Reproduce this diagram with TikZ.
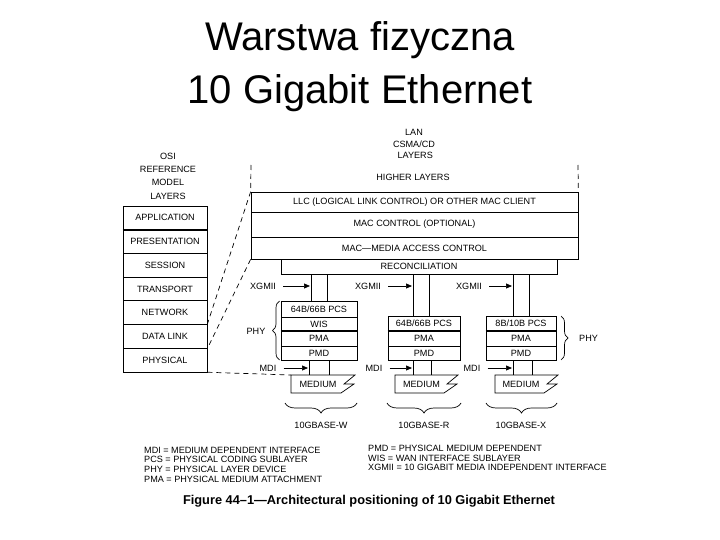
\documentclass[tikz,border=0pt]{standalone}
\usepackage{fontspec}
\setmainfont{Liberation Sans}
\usetikzlibrary{arrows.meta,decorations.pathreplacing}
\tikzset{
  sm/.style={font=\fontsize{9.1}{10}\selectfont, inner sep=0pt},
  lay/.style={draw, line width=0.7pt, inner sep=0pt, anchor=center, font=\fontsize{9.1}{10}\selectfont},
  thick line/.style={line width=2pt},
  dashln/.style={line width=0.7pt, dash pattern=on 5pt off 4pt},
  conn/.style={line width=0.7pt},
  arr/.style={line width=0.7pt, -{Triangle[length=6pt,width=5pt]}},
  brcm/.style={line width=0.7pt, decorate, decoration={brace, amplitude=7pt, mirror}},
  brcb/.style={line width=0.7pt, decorate, decoration={brace, amplitude=10pt, mirror}},
  osi/.style={lay, minimum width=84pt, minimum height=23.7pt},
}
\begin{document}
\begin{tikzpicture}[x=1pt,y=-1pt]
\useasboundingbox (0,0) rectangle (720,540);
% title
\node[font=\fontsize{40}{44}\selectfont, inner sep=0] (t1) at (360,40) {Warstwa fizyczna};
\node[font=\fontsize{40}{44}\selectfont, inner sep=0] (t2) at (360,93) {10 Gigabit Ethernet};

% OSI
\node[sm, align=center, font=\fontsize{9.1}{13.3}\selectfont] (osih) at (168,176) {OSI\\REFERENCE\\MODEL\\LAYERS};
\node[osi] (app) at (165,217.85) {APPLICATION};
\node[osi] (pres) at (165,241.55) {PRESENTATION};
\node[osi] (sess) at (165,265.25) {SESSION};
\node[osi] (trans) at (165,288.95) {TRANSPORT};
\node[osi] (net) at (165,312.65) {NETWORK};
\node[osi] (dl) at (165,336.35) {DATA LINK};
\node[osi] (phys) at (165,360.05) {PHYSICAL};
\draw[thick line] (app.south west) -- (app.south east);

% LAN header
\node[sm, align=center, font=\fontsize{9.1}{11.5}\selectfont] (lanh) at (414,144) {LAN\\CSMA/CD\\\ LAYERS};
\node[sm] (hl) at (413,177) {HIGHER LAYERS};

% MAC stack
\node[lay, minimum width=327pt, minimum height=20pt] (llc) at (414.5,202) {LLC (LOGICAL LINK CONTROL) OR OTHER MAC CLIENT};
\node[lay, minimum width=327pt, minimum height=25pt] (macc) at (414.5,224.5) {MAC CONTROL (OPTIONAL)};
\node[lay, minimum width=327pt, minimum height=22pt] (mac) at (414.5,248) {MAC---MEDIA ACCESS CONTROL};
\node[lay, minimum width=276pt, minimum height=15pt] (recon) at (419,266.5) {RECONCILIATION};

\coordinate (dvl) at (251,165);
\coordinate (dvr) at (578,165);
\draw[dashln] (dvl) -- (llc.north west);
\draw[dashln] (dvr) -- (llc.north east);

% stack 1 (W)
\node[lay, minimum width=76pt, minimum height=16pt] (s1pcs) at (319,309) {64B/66B PCS};
\node[lay, minimum width=76pt, minimum height=14pt] (s1wis) at (319,324) {WIS};
\node[lay, minimum width=76pt, minimum height=15pt] (s1pma) at (319,338.5) {PMA};
\node[lay, minimum width=76pt, minimum height=14pt] (s1pmd) at (319,353) {PMD};
\draw[thick line] (s1wis.south west) -- (s1wis.south east);

% stack 2 (R)
\node[lay, minimum width=72pt, minimum height=15pt] (s2pcs) at (424,323.5) {64B/66B PCS};
\node[lay, minimum width=72pt, minimum height=15pt] (s2pma) at (424,338.5) {PMA};
\node[lay, minimum width=72pt, minimum height=14pt] (s2pmd) at (424,353) {PMD};
\draw[thick line] (s2pcs.south west) -- (s2pcs.south east);

% stack 3 (X)
\node[lay, minimum width=70pt, minimum height=15pt] (s3pcs) at (521,323.5) {8B/10B PCS};
\node[lay, minimum width=70pt, minimum height=15pt] (s3pma) at (521,338.5) {PMA};
\node[lay, minimum width=70pt, minimum height=14pt] (s3pmd) at (521,353) {PMD};
\draw[thick line] (s3pcs.south west) -- (s3pcs.south east);

% XGMII connectors
\draw[conn] ([xshift=-8pt]s1pcs.north) -- ([xshift=-8pt]s1pcs.north |- recon.south);
\draw[conn] ([xshift=8pt]s1pcs.north) -- ([xshift=8pt]s1pcs.north |- recon.south);
\draw[conn] ([xshift=-11pt]s2pcs.north) -- ([xshift=-11pt]s2pcs.north |- recon.south);
\draw[conn] ([xshift=5pt]s2pcs.north) -- ([xshift=5pt]s2pcs.north |- recon.south);
\draw[conn] ([xshift=-8pt]s3pcs.north) -- ([xshift=-8pt]s3pcs.north |- recon.south);
\draw[conn] ([xshift=8pt]s3pcs.north) -- ([xshift=8pt]s3pcs.north |- recon.south);

\node[sm] (x1) at (263,286) {XGMII};
\node[sm] (x2) at (368,286) {XGMII};
\node[sm] (x3) at (469,286) {XGMII};
\coordinate (x1t) at (310,286);
\coordinate (x2t) at (412,286);
\coordinate (x3t) at (512,286);
\draw[arr] ([xshift=7pt]x1.east) -- (x1t);
\draw[arr] ([xshift=7pt]x2.east) -- (x2t);
\draw[arr] ([xshift=7pt]x3.east) -- (x3t);

% media
\coordinate (m1) at (291,375);
\coordinate (m2) at (395,375);
\coordinate (m3) at (495,375);
\draw[conn] (m1) -- ++(64,0) -- ++(-11,9) -- ++(10,0) -- ++(-13,9) -- (m1 |- 0,393) -- cycle;
\draw[conn] (m2) -- ++(63,0) -- ++(-11,9) -- ++(10,0) -- ++(-13,9) -- (m2 |- 0,393) -- cycle;
\draw[conn] (m3) -- ++(63,0) -- ++(-11,9) -- ++(10,0) -- ++(-13,9) -- (m3 |- 0,393) -- cycle;
\node[sm] (med1) at (318,384) {MEDIUM};
\node[sm] (med2) at (421.5,384) {MEDIUM};
\node[sm] (med3) at (521,384) {MEDIUM};

% MDI connectors
\draw[conn] ([xshift=-10pt]s1pmd.south) -- ([xshift=-10pt]s1pmd.south |- m1);
\draw[conn] ([xshift=10pt]s1pmd.south) -- ([xshift=10pt]s1pmd.south |- m1);
\draw[conn] ([xshift=-11pt]s2pmd.south) -- ([xshift=-11pt]s2pmd.south |- m2);
\draw[conn] ([xshift=7pt]s2pmd.south) -- ([xshift=7pt]s2pmd.south |- m2);
\draw[conn] ([xshift=-8pt]s3pmd.south) -- ([xshift=-8pt]s3pmd.south |- m3);
\draw[conn] ([xshift=11pt]s3pmd.south) -- ([xshift=11pt]s3pmd.south |- m3);

\node[sm] (d1) at (268,368) {MDI};
\node[sm] (d2) at (374,368) {MDI};
\node[sm] (d3) at (472,368) {MDI};
\coordinate (d1t) at (308,368);
\coordinate (d2t) at (412,368);
\coordinate (d3t) at (512,368);
\draw[arr] ([xshift=7pt]d1.east) -- (d1t);
\draw[arr] ([xshift=7pt]d2.east) -- (d2t);
\draw[arr] ([xshift=7pt]d3.east) -- (d3t);

% PHY braces
\coordinate (pl1) at (279.5,301);
\coordinate (pl2) at (279.5,360);
\draw[brcm] (pl1) -- (pl2);
\node[sm] (phyl) at (256,331) {PHY};
\coordinate (pr1) at (561,316);
\coordinate (pr2) at (561,360);
\draw[brcm] (pr2) -- (pr1);
\node[sm, anchor=west] (phyr) at (579,338) {PHY};

% bottom braces
\coordinate (b1a) at (285,403); \coordinate (b1b) at (357,403);
\coordinate (b2a) at (387,403); \coordinate (b2b) at (461,403);
\coordinate (b3a) at (486,403); \coordinate (b3b) at (557,403);
\draw[brcb] (b1a) -- (b1b);
\draw[brcb] (b2a) -- (b2b);
\draw[brcb] (b3a) -- (b3b);
\node[sm] (g1) at (321,425) {10GBASE-W};
\node[sm] (g2) at (424,425) {10GBASE-R};
\node[sm] (g3) at (521,425) {10GBASE-X};

% dashed mapping lines
\draw[dashln] (llc.north west) -- (dl.north east);
\draw[dashln] (mac.south west) -- (dl.south east);
\draw[dashln] (phys.south east) -- (m1);

% legend
\node[sm, anchor=west] (l1) at (144,450) {MDI = MEDIUM DEPENDENT INTERFACE};
\node[sm, anchor=west] (l2) at (144,459.7) {PCS = PHYSICAL CODING SUBLAYER};
\node[sm, anchor=west] (l3) at (144,469.3) {PHY = PHYSICAL LAYER DEVICE};
\node[sm, anchor=west] (l4) at (144,479) {PMA = PHYSICAL MEDIUM ATTACHMENT};
\node[sm, anchor=west] (r1) at (368,448.5) {PMD = PHYSICAL MEDIUM DEPENDENT};
\node[sm, anchor=west] (r2) at (368,458) {WIS = WAN INTERFACE SUBLAYER};
\node[sm, anchor=west] (r3) at (368,467.7) {XGMII = 10 GIGABIT MEDIA INDEPENDENT INTERFACE};

\node[font=\fontsize{12.8}{14}\selectfont\bfseries, inner sep=0] (cap) at (369,501) {Figure 44--1---Architectural positioning of 10 Gigabit Ethernet};
\end{tikzpicture}
\end{document}
